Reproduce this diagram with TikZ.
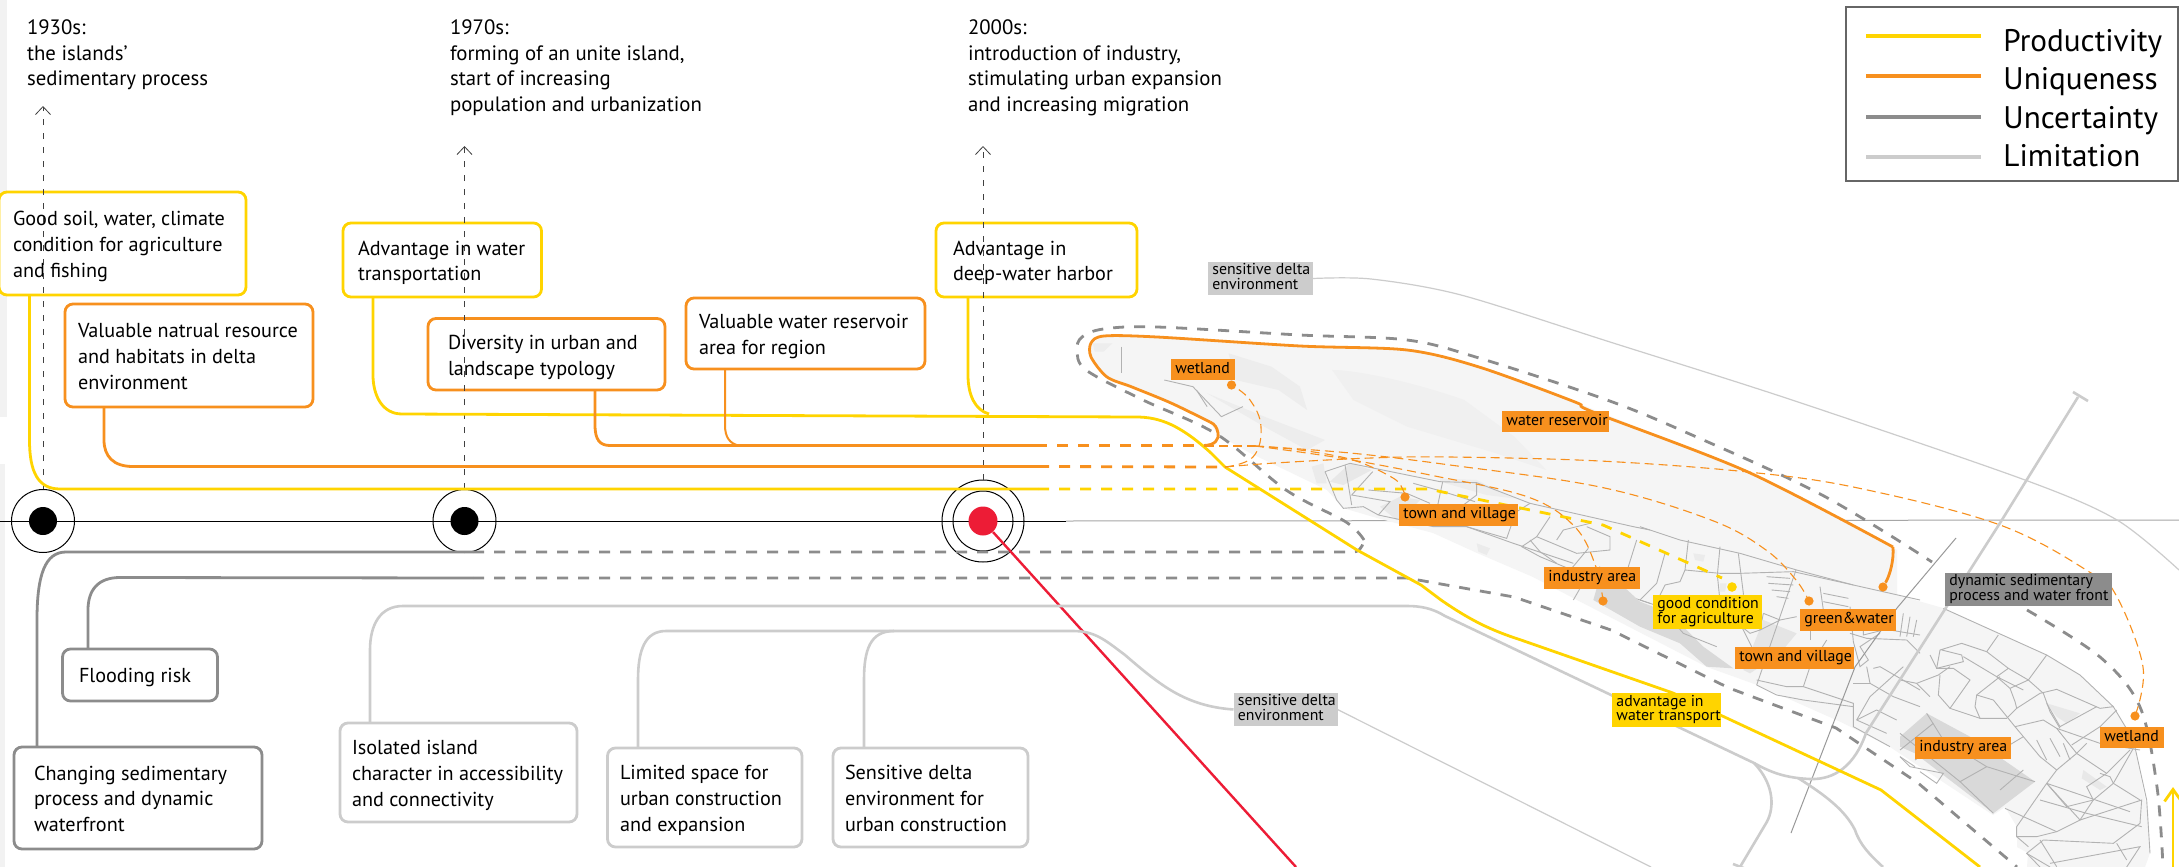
\documentclass[tikz,border=0pt]{standalone}
\usepackage{fontspec}
\setmainfont{PT Sans}
\usetikzlibrary{calc,arrows.meta}
\definecolor{cy}{HTML}{FFD400}
\definecolor{co}{HTML}{F7901E}
\definecolor{cg}{HTML}{8C8C8C}
\definecolor{cl}{HTML}{CCCCCC}
\definecolor{cr}{HTML}{ED1C36}
\tikzset{
 cardnode/.style={draw,fill=white,rounded corners=4pt,line width=1.4pt,inner sep=0pt,outer sep=0pt,anchor=north west,font=\fontsize{10.1}{12.85}\selectfont},
 tagnode/.style={inner sep=0pt,outer sep=0pt,anchor=north west,text=black,font=\fontsize{7.9}{6.5}\selectfont},
 yrnode/.style={anchor=north west,inner sep=0pt,outer sep=0pt,align=left,font=\fontsize{10.4}{12.7}\selectfont},
 legnode/.style={anchor=west,inner sep=0pt,font=\fontsize{15.6}{16}\selectfont},
 yel/.style={draw=cy,line width=1.4pt},
 ora/.style={draw=co,line width=1.4pt},
 gra/.style={draw=cg,line width=1.4pt},
 lim/.style={draw=cl,line width=1.3pt},
 thickdash/.style={dash pattern=on 5.5pt off 5pt},
 thindash/.style={draw=co,line width=.55pt,dash pattern=on 4.5pt off 2.5pt},
 street/.style={draw=black!30,line width=.45pt},
 tick/.style={draw=black!75,line width=.4pt,dash pattern=on 3pt off 4pt,-{Straight Barb[length=4pt,width=7.5pt]}},
 orangedot/.style={circle,fill=co,inner sep=0pt,minimum size=4.6pt},
 ring/.style={circle,draw=black,line width=.5pt,inner sep=0pt},
 mapa/.style={shift={(1900,600)},scale=1/3},
 mapb/.style={shift={(1640,520)},scale=1/3},
 mapc/.style={shift={(1300,440)},scale=1/3},
}
\newcommand{\st}[1]{\draw[street] plot[sharp plot] coordinates {#1};}
\newcommand{\cardbox}[8]{%
 \pgfmathsetlengthmacro{\boxw}{(#5-(#3))*0.5pt}%
 \pgfmathsetlengthmacro{\boxh}{(#6-#4)*0.5pt}%
 \pgfmathsetlengthmacro{\boxp}{(#7-(#3))*0.5pt}%
 \node[cardnode,draw=#2,minimum width=\boxw,minimum height=\boxh] (#1) at (#3,#4)
  {\makebox[\boxw][l]{\hspace*{\boxp}\raisebox{-3.9pt}[0pt][0pt]{\begin{tabular}{@{}l@{}}#8\end{tabular}}}};}
\newcommand{\tagbox}[7]{%
 \pgfmathsetlengthmacro{\boxw}{(#5-#3)*0.5pt}%
 \pgfmathsetlengthmacro{\boxh}{(#6-#4)*0.5pt}%
 \node[tagnode,fill=#2,minimum width=\boxw,minimum height=\boxh] (#1) at (#3,#4)
  {\makebox[\boxw][l]{\hspace*{2.2pt}\begin{tabular}{@{}l@{}}#7\end{tabular}}};}
\begin{document}
\begin{tikzpicture}[x=0.5pt,y=-0.5pt]
\useasboundingbox (0,0) rectangle (2179,867);
\fill[white] (0,0) rectangle (2179,867);
\fill[black!5] (0,0) rectangle (7,417);
\fill[black!5] (0,464) rectangle (5,867);
% timeline
\coordinate (tl0) at (0,521);
\coordinate (tl1) at (1066,521);
\coordinate (tl2) at (2179,520);
\draw[black!35,line width=.5pt] (tl1) -- (tl2);
% island
\fill[black!4] (1218,435) -- (1210,422) -- (1171,403) -- (1132,387) -- (1107,377) -- (1091,357) -- (1091,343) -- (1104,336) -- (1157,337) -- (1300,346) -- (1407,350) -- (1479,367) -- (1575,402) -- (1748,472) -- (1897,550) -- (1897,595) -- (1943,608) -- (2047,655) -- (2080,675) -- (2113,707) -- (2133,740) -- (2148,813) -- (2150,853) -- (2145,867) -- (2027,867) -- (2028,853) -- (2017,847) -- (2017,827) -- (2005,807) -- (1993,815) -- (1890,747) -- (1843,723) -- (1780,695) -- (1757,685) -- (1735,677) -- (1707,667) -- (1577,600) -- (1533,577) -- (1477,553) -- (1433,533) -- (1377,518) -- (1343,508) -- (1327,490) -- (1250,453) -- cycle;
\begin{scope}[shift={(1050,240)},xscale=0.3571,yscale=0.3333]
 \fill[black!7] (120,310) -- (175,310) -- (150,335) -- (125,335) -- cycle;
 \fill[black!6] (790,390) .. controls (850,390) and (1000,420) .. (1160,480) -- (1300,590) -- (1390,690) -- (1250,640) -- (1000,560) -- (850,480) -- cycle;
 \fill[black!7] (500,340) -- (620,380) -- (700,440) -- (720,510) -- (640,450) -- (520,420) -- cycle;
 \fill[black!7] (440,460) -- (600,530) -- (770,600) -- (720,630) -- (600,560) -- cycle;
 \st{(200,320) (200,400)}
 \st{(320,420) (400,440) (480,530) (540,500)}
 \st{(410,450) (440,500)}
\end{scope}
\begin{scope}[mapc]
 \fill[black!8] (35,80) -- (70,70) -- (80,130) -- (50,130) -- cycle;
 \fill[black!9] (90,125) -- (150,70) -- (215,90) -- (130,135) -- cycle;
 \fill[black!9] (240,200) -- (300,170) -- (360,180) -- (330,210) -- (290,240) -- cycle;
 \fill[black!7] (420,115) -- (530,120) -- (640,175) -- (560,165) -- (420,125) -- cycle;
 \fill[black!8] (530,310) -- (570,325) -- (560,345) -- (535,335) -- cycle;
 \st{(75,95) (150,70) (420,125) (530,128) (690,190) (1000,260) (1050,270)}
 \st{(75,95) (110,180) (130,205) (190,200) (235,225)}
 \st{(135,75) (155,195)}
 \st{(218,95) (155,165) (270,185) (235,225)}
 \st{(205,150) (320,160) (390,190)}
 \st{(340,130) (430,155) (525,185)}
 \st{(428,125) (410,210)}
 \st{(530,130) (530,165) (490,195)}
 \st{(235,225) (400,260) (500,260) (640,310) (820,370)}
 \st{(500,260) (620,295) (650,210)}
 \st{(690,190) (650,215)}
 \st{(750,230) (710,290) (665,320) (720,350) (840,400)}
 \st{(710,290) (830,340) (930,330) (930,290) (860,260)}
 \st{(870,250) (790,270) (770,300)}
 \st{(865,325) (815,385)}
 \st{(690,300) (720,335) (770,370)}
 \st{(1010,300) (960,460) (1050,490)}
 \st{(900,380) (840,445) (820,480)}
\end{scope}
\begin{scope}[mapb]
 \fill[black!15] (-120,170) -- (-60,190) -- (0,245) -- (90,280) -- (190,380) -- (280,445) -- (200,440) -- (120,370) -- (0,320) -- (-140,240) -- cycle;
 \fill[black!10] (370,300) -- (470,340) -- (420,400) -- (330,460) -- (310,450) -- cycle;
 \fill[black!8] (160,100) -- (195,105) -- (190,125) -- (165,120) -- cycle;
 \fill[black!8] (240,190) -- (260,190) -- (255,215) -- (240,215) -- cycle;
 \st{(0,20) (120,60) (300,100) (470,150) (640,195) (840,240)}
 \st{(75,100) (50,190) (0,240)}
 \st{(145,60) (135,150) (240,160) (300,160) (460,155) (640,195)}
 \st{(135,150) (120,185) (75,195) (60,225)}
 \st{(240,80) (232,165) (238,225)}
 \st{(295,100) (310,220) (305,320) (335,380)}
 \st{(468,150) (420,290) (350,495)}
 \st{(540,200) (550,270)}
 \st{(370,280) (420,300) (470,290)}
 \st{(370,280) (360,330) (330,340) (305,320)}
 \st{(360,330) (420,300)}
 \st{(350,480) (440,500) (490,500) (640,550) (640,620) (750,680)}
 \st{(410,525) (490,540) (640,560)}
 \st{(350,495) (410,525)}
 \st{(490,500) (510,440) (560,360)}
 \st{(510,360) (510,330)}
 \st{(630,260) (640,365) (660,440) (685,420) (660,380) (720,340)}
 \st{(670,330) (670,345) (730,330)}
 \st{(690,490) (680,440)}
 \st{(750,330) (840,345)}
 \st{(790,280) (780,350)}
 \st{(810,290) (800,350)}
 \st{(830,300) (820,350)}
 \st{(630,340) (680,355) (800,360) (840,400)}
 \st{(700,445) (720,440) (840,510)}
 \st{(650,600) (710,570) (770,600)}
 \st{(690,490) (760,530) (840,560)}
 \st{(640,490) (690,490)}
 \st{(790,440) (690,530) (650,600)}
 \st{(650,600) (740,640)}
 \st{(0,240) (60,260) (130,340) (230,380)}
 \st{(380,170) (450,175)}
 \st{(385,190) (460,195)}
 \st{(395,210) (450,215)}
 \st{(410,230) (445,235)}
 \st{(550,220) (625,235)}
 \st{(550,245) (625,260)}
\end{scope}
\begin{scope}[mapa]
 \fill[black!15] (80,340) -- (0,410) -- (0,440) -- (45,460) -- (280,640) -- (405,545) -- (210,410) -- cycle;
 \fill[black!9] (440,310) -- (540,340) -- (500,370) -- (470,350) -- cycle;
 \fill[black!9] (550,510) -- (620,560) -- (600,570) -- (545,535) -- cycle;
 \st{(130,25) (440,165) (540,225) (640,320) (700,420) (740,600) (750,760)}
 \st{(440,165) (385,240) (330,265) (290,230) (325,205) (260,155) (295,105)}
 \st{(260,155) (185,130) (120,150) (110,205) (190,185) (185,165) (125,150)}
 \st{(90,165) (110,205)}
 \st{(190,170) (290,230) (370,270)}
 \st{(325,205) (385,240) (430,280) (450,335) (480,385)}
 \st{(330,265) (345,305) (350,325) (320,355) (240,355) (150,325) (210,240) (160,205) (110,205)}
 \st{(240,355) (225,320) (230,285) (300,230)}
 \st{(120,225) (115,285) (150,325)}
 \st{(50,250) (115,225) (150,200)}
 \st{(0,240) (50,250) (90,290)}
 \st{(230,285) (280,300) (345,380) (370,410) (420,470) (470,510) (440,550) (350,680) (350,710) (385,740)}
 \st{(350,325) (420,280) (470,268) (600,325) (640,320)}
 \st{(440,310) (480,380) (590,320)}
 \st{(345,380) (430,360) (470,385) (530,460) (620,520) (690,450)}
 \st{(470,385) (600,430) (720,450)}
 \st{(515,435) (600,380) (650,330)}
 \st{(370,410) (320,440)}
 \st{(530,460) (560,430)}
 \st{(470,510) (530,460)}
 \st{(440,550) (540,660) (580,600) (640,550) (700,445)}
 \st{(540,660) (470,695) (410,710) (350,710)}
 \st{(440,550) (690,635)}
 \st{(440,550) (500,620) (580,600)}
 \st{(420,600) (560,640) (725,680)}
 \st{(315,625) (470,695)}
 \st{(540,660) (725,600) (720,670) (640,730) (430,720) (380,760) (420,801)}
 \st{(420,720) (470,800)}
 \st{(600,520) (630,530) (640,550) (720,600)}
 \st{(620,520) (560,560) (580,600)}
 \st{(380,760) (450,801)}
 \st{(450,790) (720,740) (680,801)}
 \st{(650,730) (680,780)}
 \st{(80,340) (130,420) (260,500) (405,545)}
 \st{(260,500) (180,545) (280,640)}
 \st{(0,400) (180,545)}
 \st{(100,370) (0,450)}
 \st{(130,420) (45,480)}
 \st{(300,570) (370,510)}
 \st{(0,470) (30,500) (130,520) (110,550) (60,515)}
 \st{(0,470) (45,500)}
 \st{(410,420) (440,480)}
 \st{(450,415) (480,470)}
 \st{(490,430) (510,480)}
\end{scope}
% thin road lines
\coordinate (rt) at (1956,538);
\coordinate (rb) at (1791,833);
\draw[black!40,line width=.5pt] (rt) -- (1897,608) -- (1855,667) -- (rb);
% legend
\node[draw=black!60,fill=white,line width=.6pt,inner sep=0pt,outer sep=0pt,minimum width=166pt,minimum height=87pt,anchor=north west] (lg) at (1846,7) {};
\foreach \yy/\ty/\cc/\lab/\nn in {36/43.5/cy/Productivity/a,76/82/co/Uniqueness/b,117/120.5/cg/Uncertainty/c,157/156/cl/Limitation/d}{
 \coordinate (lg\nn0) at (1866,\yy);
 \coordinate (lg\nn1) at (1981,\yy);
 \draw[draw=\cc,line width=2.1pt] (lg\nn0) -- (lg\nn1);
 \node[legnode] (lt\nn) at (2003,\ty) {\lab};
}
% year notes
\node[yrnode] (n1) at (27,20) {1930s:\\the islands’\\sedimentary process};
\node[yrnode] (n2) at (450,20) {1970s:\\forming of an unite island,\\start of increasing\\population and urbanization};
\node[yrnode] (n3) at (968,20) {2000s:\\introduction of industry,\\stimulating urban expansion\\and increasing migration};
% cards
\cardbox{y1}{cy}{-1}{192}{246}{295}{13}{Good soil, water, climate\\condition for agriculture\\and fishing}
\cardbox{o1}{co}{65}{304}{313}{407}{78}{Valuable natrual resource\\and habitats in delta\\environment}
\cardbox{y2}{cy}{343}{223}{541.5}{297}{358}{Advantage in water\\transportation}
\cardbox{o2}{co}{428}{318.5}{665}{390}{448}{Diversity in urban and\\landscape typology}
\cardbox{o3}{co}{686}{298}{925}{369}{699}{Valuable water reservoir\\area for region}
\cardbox{y3}{cy}{936}{223}{1137}{297}{953}{Advantage in\\deep-water harbor}
\cardbox{fr}{cg}{62.5}{649}{217.5}{701}{79}{Flooding risk}
\cardbox{cs}{cg}{14}{747}{262}{849}{34}{Changing sedimentary\\process and dynamic\\waterfront}
\cardbox{is}{cl}{340}{723}{577}{822}{352}{Isolated island\\character in accessibility\\and connectivity}
\cardbox{ls}{cl}{607.5}{748}{802}{847}{620}{Limited space for\\urban construction\\and expansion}
\cardbox{sd}{cl}{833}{748}{1028}{847}{845}{Sensitive delta\\environment for\\urban construction}
% timeline dots
\draw[black,line width=.45pt] (tl0) -- (tl1);
\node[ring,minimum size=31.5pt] (r1) at (43,521) {};
\node[ring,minimum size=31.5pt] (r2) at (464.5,521) {};
\node[ring,minimum size=41pt] (r3a) at (983,521) {};
\node[ring,minimum size=30pt] (r3b) at (983,521) {};
\node[circle,fill=black,inner sep=0pt,minimum size=14pt] (d1) at (43,521) {};
\node[circle,fill=black,inner sep=0pt,minimum size=14pt] (d2) at (464.5,521) {};
\node[circle,fill=cr,inner sep=0pt,minimum size=14.5pt] (d3) at (983,521) {};
% dashed time ticks
\coordinate (t1) at (43,106);
\coordinate (t2) at (464.5,146);
\coordinate (t3) at (983,146);
\draw[tick] (r1.north) -- (t1);
\draw[tick] (r2.north) -- (t2);
\draw[tick] (r3a.north) -- (t3);
% red line
\coordinate (redend) at (1296,867);
\draw[draw=cr,line width=1.2pt] (d3) -- (redend);
% tags used as connector ends
\tagbox{tsd1}{cl}{1208}{262}{1313}{295}{sensitive delta\\environment}
\tagbox{tsd2}{cl}{1233.5}{693}{1337.5}{726}{sensitive delta\\environment}
% dots
\node[orangedot] (dw1) at (1231.5,385) {};
\node[orangedot] (dtv) at (1405,497) {};
\node[orangedot] (dia) at (1603,601) {};
\node[orangedot] (dgw) at (1809,601) {};
\node[orangedot] (dwr) at (1883,587) {};
\node[orangedot] (dw2) at (2135,716) {};
\node[circle,fill=cy,inner sep=0pt,minimum size=4.8pt] (dgc) at (1732,587) {};
% --- limitation thin lines
\coordinate (sd1end) at (2179,570);
\coordinate (sd2end) at (1651,867);
\draw[draw=cl,line width=.6pt] plot[smooth,tension=.5] coordinates {(tsd1.east) (1371,279) (1461,295) (1610,342) (1792,400) (2025,480) (2117,520) (sd1end)};
\draw[draw=cl,line width=.6pt] (tsd2.east) -- (sd2end);
% --- limitation connectors
\coordinate (j1) at (1754,763);
\coordinate (j2) at (1798,778);
\coordinate (roadtop) at (2078,397);
\coordinate (be1) at (1740,867);
\coordinate (be2) at (1883,867);
\draw[lim] ($(is.north west)+(30,0)$) -- (370,650) .. controls (370,625) and (380,606) .. (403,606) -- (1407,606) .. controls (1420,606) and (1432,608) .. (1445,616) -- (j1) .. controls (1770,772) and (1785,778) .. (1810,779) .. controls (1835,780) and (1855,765) .. (1866,733) -- (2000,523) -- (roadtop);
\draw[lim] (2073,392) -- (2088,401);
\draw[lim] (j1) .. controls (1775,785) and (1775,810) .. (1765,825) -- (be1);
\draw[lim] (1733,864) -- (1746,869);
\draw[lim] (j2) .. controls (1825,795) and (1845,810) .. (1855,830) .. controls (1860,845) and (1870,855) .. (be2);
\draw[lim] ($(ls.north west)+(30.5,0)$) -- (638,680) .. controls (638,650) and (645,631) .. (666,631) -- (1073,631) .. controls (1095,631) and (1105,640) .. (1125,655) .. controls (1160,685) and (1185,706) .. (tsd2.west);
\draw[lim] ($(sd.north west)+(31,0)$) -- (864,680) .. controls (864,650) and (870,631) .. (894,631);
% --- uncertainty
\coordinate (jc) at (473,552);
\coordinate (jf) at (473,578);
\coordinate (ce1) at (1932,562);
\coordinate (ce2) at (2027,610);
\coordinate (ce3) at (2163,867);
\coordinate (fe) at (2017,867);
\draw[gra] ($(cs.north west)+(23,0)$) -- (37,620) .. controls (37,575) and (45,552) .. (66,552) -- (jc);
\draw[gra] ($(fr.north west)+(25.5,0)$) -- (88,610) .. controls (88,590) and (98,577.5) .. (120,577.5) -- (jf);
\draw[gra,thickdash] (jc) -- (1353,552) .. controls (1358,552) and (1362,549) .. (1364,540);
\draw[gra,thickdash] plot[smooth,tension=.55] coordinates {(1364,540) (1346,522) (1286,490) (1218,435) (1143,400) (1086,370) (1077,350) (1082,337) (1103.5,329) (1157,327) (1300,335) (1407,340) (1479,358) (1607,400) (1692,435) (1822,495) (ce1)};
\draw[gra,thickdash] plot[smooth,tension=.55] coordinates {(ce2) (2100,657) (2140,707) (2157,787) (ce3)};
\draw[gra,thickdash] (jf) -- (1407,578) -- (1514,597) -- (1611,630) -- (1729,688) -- (1836,728) -- (1918,783) -- (fe);
% --- productivity
\coordinate (jy) at (1038,489);
\coordinate (ye) at (1722,578);
\coordinate (ymid) at (989,414);
\coordinate (ybot) at (1980,867);
\draw[yel] ($(y1.south west)+(30.5,0)$) -- (29.5,440) .. controls (29.5,472) and (38,489) .. (60,489) -- (jy);
\draw[yel,thickdash] (jy) -- (1428,489) -- (1603,525) -- (ye);
\draw[yel] ($(y2.south west)+(30,0)$) -- (373,375) .. controls (373,395) and (382,414) .. (402,414) -- (1136,417) .. controls (1160,417) and (1180,425) .. (1211,453) -- (1225,467) -- (1357,550) -- (1421,585) -- (1441,600) .. controls (1470,620) and (1490,630) .. (1521,640) -- (1673,693) -- (1881,790) -- (ybot);
\draw[yel] ($(y3.south west)+(32,0)$) -- (968,375) .. controls (968,395) and (975,410) .. (ymid);
\coordinate (ya0) at (2173,867);
\coordinate (ya1) at (2173,787);
\draw[yel,-{Straight Barb[length=6pt,width=8.5pt]}] (ya0) -- (ya1);
% --- uniqueness
\coordinate (jo1) at (1038,466.5);
\coordinate (jo2) at (1036,445.5);
\coordinate (fk1) at (1225,467);
\coordinate (fk2) at (1255,446);
\draw[ora] ($(o1.south west)+(39,0)$) -- (104,440) .. controls (104,456) and (113,466.5) .. (133,466.5) -- (jo1);
\draw[ora] ($(o2.south west)+(167,0)$) -- (595,425) .. controls (595,440) and (600,445.5) .. (610,445.5) -- (jo2);
\draw[ora,line width=1pt] ($(o3.south west)+(39,0)$) -- (725,425) .. controls (725,438) and (730,443) .. (738,445.5);
\draw[ora,thickdash] (jo1) -- (fk1);
\draw[ora,thickdash] (jo2) -- (1205,445.5);
\draw[ora] (1204,445.5) .. controls (1215,445) and (1219,440) .. (1218,433) .. controls (1217,428) and (1215,424) .. (1210,422);
\draw[ora] plot[smooth,tension=.5] coordinates {(1210,422) (1171,403) (1132,387) (1107,377) (1091,357) (1091,343) (1104,336) (1157,337) (1300,346) (1407,350) (1479,367) (1575,402) (1593,412) (1748,472) (1893,547)};
\draw[ora] (1893,547) .. controls (1894,560) and (1890,575) .. (dwr);
\draw[thindash] (1205,446) -- (fk2);
\draw[thindash] plot[smooth,tension=.6] coordinates {(fk2) (1300,450) (1353,460) (1393,478) (1403,490) (dtv)};
\draw[thindash] plot[smooth,tension=.6] coordinates {(fk2) (1340,458) (1430,475) (1528,497) (1575,527) (1596,567) (dia)};
\draw[thindash] plot[smooth,tension=.6] coordinates {(fk2) (1350,453) (1450,465) (1600,487) (1711,520) (1766,550) (1796,580) (dgw)};
\draw[thindash] plot[smooth,tension=.6] coordinates {(fk1) (1275,463) (1371,458) (1450,457) (1600,461) (1748,472) (1858,488) (2000,525) (2091,573) (2117,597) (2143,667) (dw2)};
\draw[thindash] plot[smooth,tension=.7] coordinates {(fk1) (1253,457) (1261,427) (1250,400) (dw1)};
% tags above lines
\tagbox{tw1}{co}{1171}{359}{1235}{380}{wetland}
\tagbox{twr}{co}{1502}{411}{1609}{432}{water reservoir}
\tagbox{ttv1}{co}{1399}{504}{1518}{526}{town and village}
\tagbox{tia1}{co}{1544}{567}{1640}{589}{industry area}
\tagbox{tgc}{cy}{1653}{595}{1762}{629}{good condition\\for agriculture}
\tagbox{tgw}{co}{1800}{609}{1896}{631}{green\&water}
\tagbox{ttv2}{co}{1735}{647}{1854}{669}{town and village}
\tagbox{tadv}{cy}{1612}{693}{1721}{727}{advantage in\\water transport}
\tagbox{tia2}{co}{1915}{737}{2011}{759}{industry area}
\tagbox{tw2}{co}{2100}{727}{2164}{748}{wetland}
\tagbox{tdyn}{cg}{1945}{573}{2112}{606}{dynamic sedimentary\\process and water front}
\end{tikzpicture}
\end{document}
